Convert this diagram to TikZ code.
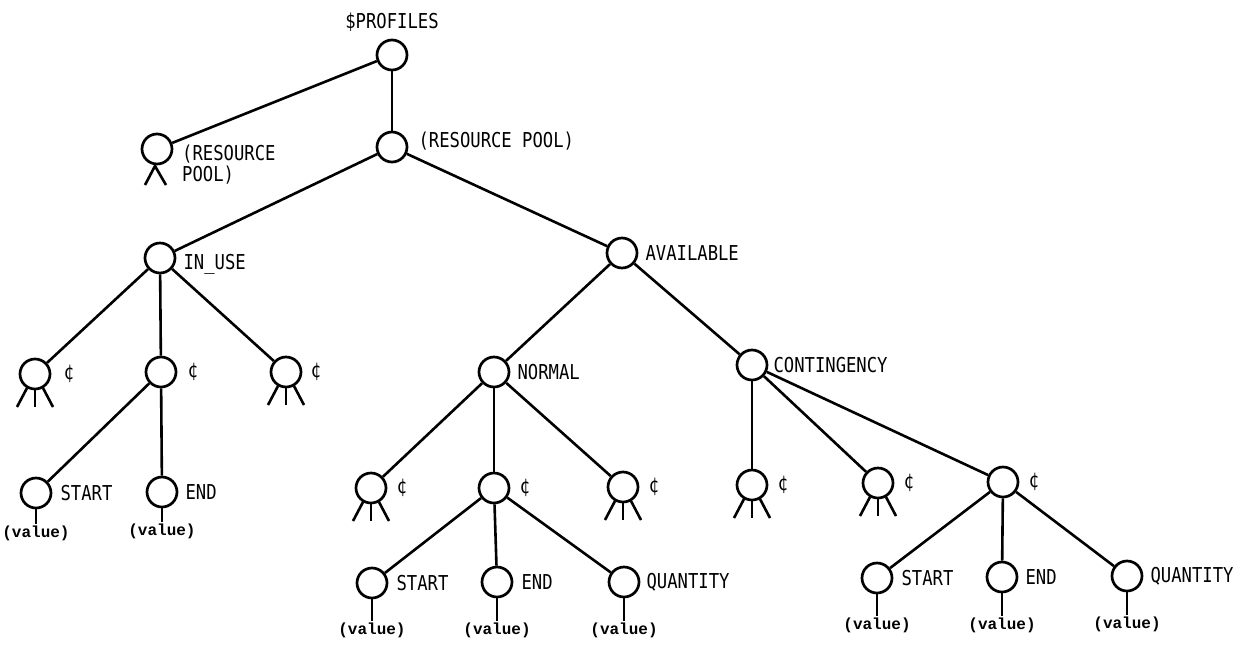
\documentclass[tikz,border=0pt]{standalone}
\usepackage{fontspec}
\newfontfamily\lblfont[FakeStretch=0.84]{DejaVu Sans Mono}
\newfontfamily\valfont{Liberation Mono}
\tikzset{
  nd/.style={circle, draw, line width=2.7pt, minimum size=30pt, inner sep=0pt},
  lbl/.style={font=\lblfont\fontsize{20.5}{21}\selectfont, inner sep=0pt, align=left},
  val/.style={font=\valfont\bfseries\fontsize{16}{17}\selectfont, inner sep=1pt},
  edge/.style={line width=2.6pt},
  leg/.style={line width=2.6pt},
}
\begin{document}
\begin{tikzpicture}[x=1pt,y=-1pt]
\useasboundingbox (0,0) rectangle (1247,646);
% nodes
\node[nd, label={[lbl,label distance=7pt]90:\$PROFILES}] (root) at (392,55) {};
\node[nd] (rpL) at (157,149) {};
\node[lbl, anchor=west] (rpLlbl) at (182,165) {(RESOURCE\\POOL)};
\node[nd, label={[lbl,label distance=10pt,yshift=6pt]0:(RESOURCE POOL)}] (rp) at (392,147) {};
\node[nd, label={[lbl,label distance=7pt,yshift=-6pt]0:IN\_USE}] (inuse) at (160,258) {};
\node[nd, label={[lbl,label distance=7pt]0:AVAILABLE}] (avail) at (622,253) {};
\node[nd, label={[lbl,label distance=12pt]0:¢}] (c1) at (35,374) {};
\node[nd, label={[lbl,label distance=10pt]0:¢}] (c2) at (161,372) {};
\node[nd, label={[lbl,label distance=8pt]0:¢}] (c3) at (286,372) {};
\node[nd, label={[lbl,label distance=8pt]0:START}] (s1) at (36,493) {};
\node[nd, label={[lbl,label distance=7pt]0:END}] (e1) at (162,492) {};
\node[nd, label={[lbl,label distance=7pt]0:NORMAL}] (normal) at (494,372) {};
\node[nd, label={[lbl,label distance=5pt]0:CONTINGENCY}] (cont) at (752,365) {};
\node[nd, label={[lbl,label distance=9pt]0:¢}] (n1) at (371,488) {};
\node[nd, label={[lbl,label distance=9pt]0:¢}] (n2) at (494,488) {};
\node[nd, label={[lbl,label distance=9pt]0:¢}] (n3) at (623,487) {};
\node[nd, label={[lbl,label distance=8pt]0:START}] (ns) at (372,583) {};
\node[nd, label={[lbl,label distance=8pt]0:END}] (ne) at (497,582) {};
\node[nd, label={[lbl,label distance=6pt]0:QUANTITY}] (nq) at (624,582) {};
\node[nd, label={[lbl,label distance=9pt]0:¢}] (k1) at (752,485) {};
\node[nd, label={[lbl,label distance=9pt]0:¢}] (k2) at (878,483) {};
\node[nd, label={[lbl,label distance=9pt]0:¢}] (k3) at (1003,482) {};
\node[nd, label={[lbl,label distance=8pt]0:START}] (ks) at (877,578) {};
\node[nd, label={[lbl,label distance=7pt]0:END}] (ke) at (1002,577) {};
\node[nd, label={[lbl,label distance=7pt]0:QUANTITY}] (kq) at (1127,576) {};
% value texts
\node[val] (vs1) at (36,533) {(value)};
\node[val] (ve1) at (162,531) {(value)};
\node[val] (vns) at (372,630) {(value)};
\node[val] (vne) at (497,630) {(value)};
\node[val] (vnq) at (624,630) {(value)};
\node[val] (vks) at (877,625) {(value)};
\node[val] (vke) at (1002,625) {(value)};
\node[val] (vkq) at (1127,624) {(value)};
% edges
\draw[edge] (root) -- (rpL);
\draw[edge] (root) -- (rp);
\draw[edge] (rp) -- (inuse);
\draw[edge] (rp) -- (avail);
\draw[edge] (inuse) -- (c1);
\draw[edge] (inuse) -- (c2);
\draw[edge] (inuse) -- (c3);
\draw[edge] (c2) -- (s1);
\draw[edge] (c2) -- (e1);
\draw[edge] (avail) -- (normal);
\draw[edge] (avail) -- (cont);
\draw[edge] (normal) -- (n1);
\draw[edge] (normal) -- (n2);
\draw[edge] (normal) -- (n3);
\draw[edge] (n2) -- (ns);
\draw[edge] (n2) -- (ne);
\draw[edge] (n2) -- (nq);
\draw[edge] (cont) -- (k1);
\draw[edge] (cont) -- (k2);
\draw[edge] (cont) -- (k3);
\draw[edge] (k3) -- (ks);
\draw[edge] (k3) -- (ke);
\draw[edge] (k3) -- (kq);
% value stems
\foreach \a/\b in {s1/vs1, e1/ve1, ns/vns, ne/vne, nq/vnq, ks/vks, ke/vke, kq/vkq}
  \draw[edge] (\a) -- (\b);
% legs
\foreach \n in {c1, c3, n1, n3, k1, k2} {
  \draw[leg] ([shift={(-8,14)}]\n.center) -- ++(-10,19);
  \draw[leg] ([shift={(0,16)}]\n.center) -- ++(0,17);
  \draw[leg] ([shift={(8,14)}]\n.center) -- ++(10,19);
}
\draw[leg] ([shift={(-12,36)}]rpL.center) -- ([shift={(-2,17)}]rpL.center) -- ([shift={(9,36)}]rpL.center);
\end{tikzpicture}
\end{document}
